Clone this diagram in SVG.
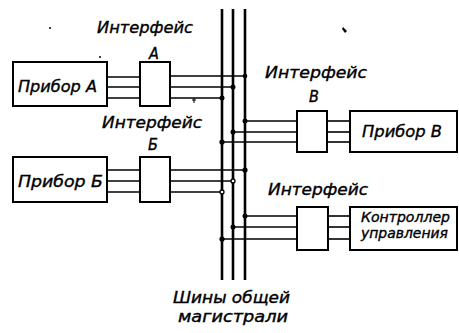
<svg xmlns="http://www.w3.org/2000/svg" width="459" height="333" viewBox="0 0 459 333">
<style>
.box{fill:#fff;stroke:#000;stroke-width:2}
.w{fill:none;stroke:#000;stroke-width:1.6}
.bus{fill:none;stroke:#000;stroke-width:2.6}
.dot{fill:#000}
.ring{fill:#fff;stroke:#000;stroke-width:1.3}
text{font-family:"DejaVu Sans Condensed","Liberation Sans Narrow","Liberation Sans",sans-serif;font-style:italic;font-size:16px;fill:#000;stroke:#000;stroke-width:0.35}
.s{font-size:14px}
.b{font-size:15px}
.m{text-anchor:middle}
</style>
<rect width="459" height="333" fill="#fff"/>
<g id="connectors">
<line class="bus" x1="222" y1="9" x2="222" y2="280"/>
<line class="bus" x1="233" y1="9" x2="233" y2="280"/>
<line class="bus" x1="245" y1="9" x2="245" y2="280"/>
<polyline class="w" points="107,77 140,77"/>
<polyline class="w" points="107,87 140,87"/>
<polyline class="w" points="107,98 140,98"/>
<polyline class="w" points="170,76 245,76"/>
<polyline class="w" points="170,87 233,87"/>
<polyline class="w" points="170,98 222,98"/>
<polyline class="w" points="107,170 140,170"/>
<polyline class="w" points="107,181 140,181"/>
<polyline class="w" points="107,192 140,192"/>
<polyline class="w" points="170,170 245,170"/>
<polyline class="w" points="170,181 233,181"/>
<polyline class="w" points="170,192 222,192"/>
<polyline class="w" points="245,121 297,121"/>
<polyline class="w" points="233,132 297,132"/>
<polyline class="w" points="222,142 297,142"/>
<polyline class="w" points="327,121 350,121"/>
<polyline class="w" points="327,132 350,132"/>
<polyline class="w" points="327,142 350,142"/>
<polyline class="w" points="245,216 297,216"/>
<polyline class="w" points="233,227 297,227"/>
<polyline class="w" points="222,239 297,239"/>
<polyline class="w" points="328,216 350,216"/>
<polyline class="w" points="328,227 350,227"/>
<polyline class="w" points="328,239 350,239"/>
<circle class="dot" cx="245" cy="76" r="2.3"/>
<circle class="dot" cx="233" cy="87" r="2.5"/>
<circle class="dot" cx="222" cy="98" r="2.5"/>
<circle class="dot" cx="245" cy="170" r="2.6"/>
<circle class="ring" cx="233" cy="181" r="2"/>
<circle class="ring" cx="222" cy="192" r="2"/>
<circle class="dot" cx="245" cy="121" r="2.5"/>
<circle class="dot" cx="233" cy="132" r="2.5"/>
<circle class="dot" cx="222" cy="142" r="2.6"/>
<circle class="dot" cx="245" cy="216" r="2.5"/>
<circle class="dot" cx="233" cy="227" r="2.5"/>
<circle class="dot" cx="222" cy="239" r="2.6"/>
</g>
<g id="priborA"><rect class="box" x="13" y="62" width="94" height="44"/><text x="18" y="92" textLength="79" lengthAdjust="spacingAndGlyphs">Прибор А</text></g>
<g id="interfaceA"><rect class="box" x="140" y="62" width="30" height="44"/><text x="97" y="33" textLength="96" lengthAdjust="spacingAndGlyphs">Интерфейс</text><text x="154" y="59" class="m">А</text></g>
<g id="priborB"><rect class="box" x="13" y="157" width="94" height="45"/><text x="18" y="187" textLength="85" lengthAdjust="spacingAndGlyphs">Прибор Б</text></g>
<g id="interfaceB"><rect class="box" x="140" y="157" width="30" height="45"/><text x="102" y="128" textLength="100" lengthAdjust="spacingAndGlyphs">Интерфейс</text><text x="153" y="150" class="m">Б</text></g>
<g id="interfaceV"><rect class="box" x="297" y="111" width="30" height="41"/><text x="265" y="78" textLength="102" lengthAdjust="spacingAndGlyphs">Интерфейс</text><text x="314" y="102" class="m">В</text></g>
<g id="priborV"><rect class="box" x="350" y="111" width="107" height="41"/><text x="362" y="137" textLength="80" lengthAdjust="spacingAndGlyphs">Прибор В</text></g>
<g id="interfaceC"><rect class="box" x="297" y="207" width="31" height="43"/><text x="268" y="195" textLength="100" lengthAdjust="spacingAndGlyphs">Интерфейс</text></g>
<g id="controller"><rect class="box" x="350" y="207" width="107" height="43"/><text class="s" x="361" y="222" textLength="89" lengthAdjust="spacingAndGlyphs">Контроллер</text><text class="s" x="361" y="238" textLength="87" lengthAdjust="spacingAndGlyphs">управления</text></g>
<g id="busLabel"><text class="b" x="173" y="303" textLength="117" lengthAdjust="spacingAndGlyphs">Шины общей</text><text class="b" x="178" y="322" textLength="110" lengthAdjust="spacingAndGlyphs">магистрали</text></g>
<g id="marks">
<circle cx="50" cy="28" r="1" class="dot"/>
<circle cx="100" cy="57" r="1" class="dot"/>
<path d="M194,98 v5 M192,100 h4" stroke="#000" stroke-width="1" fill="none"/>
<path d="M343,27 l4,4 -2,2 -3,-4 z" class="dot"/>
</g>
</svg>
